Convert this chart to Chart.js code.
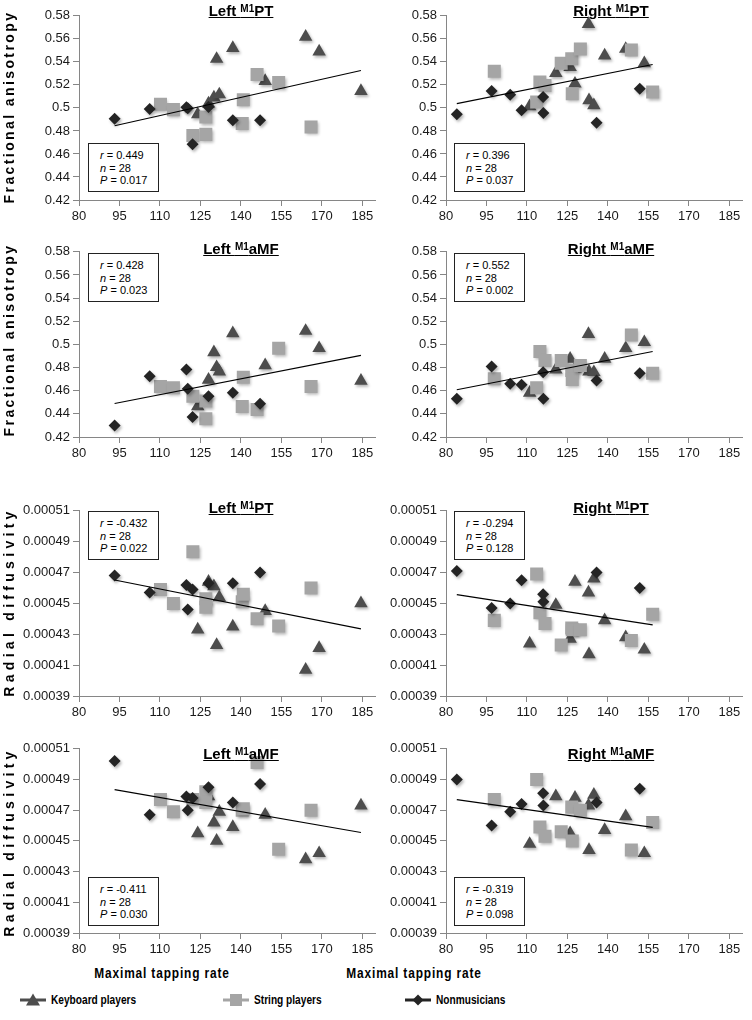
<!DOCTYPE html>
<html>
<head>
<meta charset="utf-8">
<script src="https://cdn.jsdelivr.net/npm/chart.js@4.4.0/dist/chart.umd.min.js"></script>
<style>
  html, body { margin:0; padding:0; background:#fff; }
  body { width:752px; height:1020px; position:relative; overflow:hidden; font-family:"Liberation Sans", Arial, sans-serif; color:#000; }
  canvas.panel { position:absolute; }
  .ptitle { position:absolute; width:200px; text-align:center; font-weight:bold; font-size:15px; line-height:16px; }
  .ptitle span { text-decoration:underline; }
  .ptitle sup { font-size:10px; vertical-align:4px; line-height:0; }
  .stats { position:absolute; box-sizing:border-box; width:71px; height:49px; border:1px solid #222; background:#fff;
           font-size:11px; line-height:12.5px; padding:5px 0 0 11px; white-space:nowrap; z-index:2; }
  .ylab { position:absolute; width:240px; height:16px; line-height:16px; text-align:center; font-weight:bold; font-size:14px;
          font-family:"Liberation Sans", Arial, sans-serif; transform:rotate(-90deg); transform-origin:50% 50%; white-space:nowrap; }
  .xlab { position:absolute; width:240px; height:16px; line-height:16px; text-align:center; font-weight:bold; font-size:14px; letter-spacing:1px;
          font-family:"Liberation Sans", Arial, sans-serif; white-space:nowrap; transform:scaleX(0.85); transform-origin:50% 50%; }
  .leg { position:absolute; height:16px; line-height:16px; font-weight:bold; font-size:13px; white-space:nowrap;
         font-family:"Liberation Sans", Arial, sans-serif; transform:scaleX(0.78); transform-origin:0 50%; }
  .legsym { position:absolute; }
</style>
</head>
<body>
<script>
// ---------- tick labels ----------
const xTicks = [80, 95, 110, 125, 140, 155, 170, 185];
const faTicks = [0.42, 0.44, 0.46, 0.48, 0.50, 0.52, 0.54, 0.56, 0.58];
const rdTicks = [0.00039, 0.00041, 0.00043, 0.00045, 0.00047, 0.00049, 0.00051];

// ---------- series names ----------
const groupNames = ['Keyboard players', 'String players', 'Nonmusicians'];
const panelTitles = [['Left ', 'M1', 'PT'], ['Right ', 'M1', 'PT'], ['Left ', 'M1', 'aMF'], ['Right ', 'M1', 'aMF'],
                     ['Left ', 'M1', 'PT'], ['Right ', 'M1', 'PT'], ['Left ', 'M1', 'aMF'], ['Right ', 'M1', 'aMF']];
const rowLabels = ['Fractional anisotropy', 'Fractional anisotropy', 'Radial diffusivity', 'Radial diffusivity'];
const xAxisLabel = 'Maximal tapping rate';

// ---------- maximal tapping rate (x) ----------
const leftKeyboardRate  = [124, 128, 130, 131, 132, 137, 149, 164, 169, 184.5];
const leftStringRate    = [110.2, 115, 122.2, 127, 127, 140.5, 140.9, 146, 154, 166];
const leftNonmusRate    = [93.2, 106.2, 119.8, 120.3, 122.1, 128, 137, 147.1];
const rightKeyboardRate = [111, 120.7, 126, 127.8, 132.8, 133, 134.8, 138.8, 146.6, 153.5];
const rightStringRate   = [97.9, 113.6, 114.8, 116.7, 122.7, 126.6, 126.8, 129.8, 148.7, 156.6];
const rightNonmusRate   = [84, 96.9, 103.8, 108, 116, 116.1, 135.8, 151.8];

// ---------- fractional anisotropy ----------
const faLeftPT_keyboard = [0.4945, 0.5037, 0.509, 0.5425, 0.5117, 0.552, 0.5233, 0.5618, 0.549, 0.5146];
const faLeftPT_string   = [0.5031, 0.4985, 0.476, 0.492, 0.477, 0.4864, 0.507, 0.529, 0.522, 0.4835];
const faLeftPT_nonmus   = [0.4905, 0.499, 0.5005, 0.4998, 0.4685, 0.5008, 0.4893, 0.4893];

const faRightPT_keyboard = [0.5014, 0.5302, 0.5354, 0.521, 0.5728, 0.5066, 0.5022, 0.5454, 0.5512, 0.5388];
const faRightPT_string   = [0.5319, 0.5051, 0.5224, 0.5195, 0.5388, 0.5426, 0.5123, 0.5512, 0.5503, 0.5138];
const faRightPT_nonmus   = [0.4945, 0.5146, 0.5114, 0.4979, 0.5094, 0.4956, 0.487, 0.5166];

const faLeftAMF_keyboard = [0.4464, 0.4694, 0.4932, 0.4803, 0.4766, 0.5096, 0.482, 0.5116, 0.4967, 0.4685];
const faLeftAMF_string   = [0.4636, 0.4625, 0.4553, 0.451, 0.4358, 0.4464, 0.4717, 0.4438, 0.4967, 0.4636];
const faLeftAMF_nonmus   = [0.43, 0.4725, 0.4783, 0.4616, 0.4372, 0.4553, 0.4582, 0.4487];

const faRightAMF_keyboard = [0.4582, 0.4783, 0.4875, 0.479, 0.509, 0.4766, 0.476, 0.4875, 0.4967, 0.5019];
const faRightAMF_string   = [0.4703, 0.4625, 0.4938, 0.486, 0.486, 0.4774, 0.4697, 0.4817, 0.5082, 0.4751];
const faRightAMF_nonmus   = [0.453, 0.481, 0.4659, 0.4651, 0.476, 0.453, 0.4688, 0.4751];

// ---------- radial diffusivity ----------
const rdLeftPT_keyboard = [0.000433, 0.000464, 0.000461, 0.000423, 0.000454, 0.000435, 0.000445, 0.000407, 0.000421, 0.00045];
const rdLeftPT_string   = [0.000459, 0.00045, 0.0004835, 0.000453, 0.0004475, 0.000451, 0.000456, 0.00044, 0.0004353, 0.00046];
const rdLeftPT_nonmus   = [0.000468, 0.000457, 0.000462, 0.000446, 0.000459, 0.000463, 0.000463, 0.00047];

const rdRightPT_keyboard = [0.000424, 0.000449, 0.000427, 0.000464, 0.000457, 0.000417, 0.000466, 0.000439, 0.000428, 0.00042];
const rdRightPT_string   = [0.000439, 0.000469, 0.000444, 0.000437, 0.000423, 0.000434, 0.000433, 0.000433, 0.000426, 0.000443];
const rdRightPT_nonmus   = [0.000471, 0.000447, 0.00045, 0.000465, 0.000456, 0.000451, 0.00047, 0.00046];

const rdLeftAMF_keyboard = [0.000455, 0.000479, 0.000462, 0.00045, 0.000469, 0.000459, 0.000467, 0.000438, 0.000442, 0.000473];
const rdLeftAMF_string   = [0.000477, 0.000469, 0.000477, 0.000482, 0.000475, 0.00047, 0.000471, 0.000501, 0.0004445, 0.00047];
const rdLeftAMF_nonmus   = [0.000502, 0.000467, 0.000479, 0.00047, 0.000478, 0.000485, 0.000475, 0.000487];

const rdRightAMF_keyboard = [0.000448, 0.000479, 0.000455, 0.000478, 0.000473, 0.000444, 0.00048, 0.000457, 0.000466, 0.000442];
const rdRightAMF_string   = [0.000477, 0.00049, 0.000459, 0.000453, 0.000456, 0.000472, 0.00045, 0.00047, 0.000444, 0.000462];
const rdRightAMF_nonmus   = [0.00049, 0.00046, 0.000469, 0.000474, 0.000481, 0.000473, 0.000475, 0.000484];

// ---------- fitted lines (value at lowest and highest tapping rate) ----------
const trendFaLeftPT   = [0.4845, 0.5325];
const trendFaRightPT  = [0.5037, 0.5377];
const trendFaLeftAMF  = [0.4490, 0.4905];
const trendFaRightAMF = [0.4608, 0.4938];
const trendRdLeftPT   = [0.0004652, 0.0004335];
const trendRdRightPT  = [0.0004557, 0.0004361];
const trendRdLeftAMF  = [0.0004834, 0.0004555];
const trendRdRightAMF = [0.0004769, 0.0004588];

// ---------- statistics ----------
const statR = ['0.449', '0.396', '0.428', '0.552', '-0.432', '-0.294', '-0.411', '-0.319'];
const statN = ['28', '28', '28', '28', '28', '28', '28', '28'];
const statP = ['0.017', '0.037', '0.023', '0.002', '0.022', '0.128', '0.030', '0.098'];

// ================= layout =================
const L = {
  canvasLeft: [0, 367], canvasW: 385, yAxisW: 79, padTop: 10, xAxisH: 30, padRight: 1,
  rowTop: [15, 251, 510, 748], rowBottom: [200, 437, 696, 933],
  titleCenterX: [241, 611], titleTop: [2.5, 240.5, 499.5, 745.5],
  statsLeft: [88, 454], statsTop: [143, 253, 511, 877],
  yLabCX: 9, yLabCY: [107, 340, 602, 842], yLabSpacing: [2.4, 2.4, 4.3, 4.3],
  xLabCX: [162, 414], xLabCY: 973,
  colors: { keyboard: '#4d4d4d', string: '#a5a5a5', nonmus: '#242424', axis: '#868686', text: '#1a1a1a' }
};

const panels = [
  { col:0, row:0, kind:'fa', k:faLeftPT_keyboard,  s:faLeftPT_string,  n:faLeftPT_nonmus,  t:trendFaLeftPT },
  { col:1, row:0, kind:'fa', k:faRightPT_keyboard, s:faRightPT_string, n:faRightPT_nonmus, t:trendFaRightPT },
  { col:0, row:1, kind:'fa', k:faLeftAMF_keyboard, s:faLeftAMF_string, n:faLeftAMF_nonmus, t:trendFaLeftAMF },
  { col:1, row:1, kind:'fa', k:faRightAMF_keyboard,s:faRightAMF_string,n:faRightAMF_nonmus,t:trendFaRightAMF },
  { col:0, row:2, kind:'rd', k:rdLeftPT_keyboard,  s:rdLeftPT_string,  n:rdLeftPT_nonmus,  t:trendRdLeftPT },
  { col:1, row:2, kind:'rd', k:rdRightPT_keyboard, s:rdRightPT_string, n:rdRightPT_nonmus, t:trendRdRightPT },
  { col:0, row:3, kind:'rd', k:rdLeftAMF_keyboard, s:rdLeftAMF_string, n:rdLeftAMF_nonmus, t:trendRdLeftAMF },
  { col:1, row:3, kind:'rd', k:rdRightAMF_keyboard,s:rdRightAMF_string,n:rdRightAMF_nonmus,t:trendRdRightAMF }
];
const rates = [
  { k:leftKeyboardRate,  s:leftStringRate,  n:leftNonmusRate },
  { k:rightKeyboardRate, s:rightStringRate, n:rightNonmusRate }
];

function pts(xs, ys) { return xs.map((x, i) => ({ x: x, y: ys[i] })); }
const FONT = '"Liberation Sans", Arial, sans-serif';

// soft marker shadow like the original spreadsheet markers
const markerShadow = {
  id: 'markerShadow',
  beforeDatasetDraw(chart, args) {
    if (args.meta.type === 'line') return;
    const c = chart.ctx;
    c.save();
    c.shadowColor = 'rgba(0,0,0,0.30)';
    c.shadowBlur = 3;
    c.shadowOffsetX = 1.5;
    c.shadowOffsetY = 2;
  },
  afterDatasetDraw(chart, args) {
    if (args.meta.type === 'line') return;
    chart.ctx.restore();
  }
};

panels.forEach((p, idx) => {
  const r = rates[p.col];
  const allX = r.k.concat(r.s, r.n);
  const xMin = Math.min.apply(null, allX), xMax = Math.max.apply(null, allX);
  const plotH = L.rowBottom[p.row] - L.rowTop[p.row];
  const cv = document.createElement('canvas');
  cv.className = 'panel';
  cv.width = L.canvasW; cv.height = L.padTop + plotH + L.xAxisH;
  cv.style.left = L.canvasLeft[p.col] + 'px';
  cv.style.top = (L.rowTop[p.row] - L.padTop) + 'px';
  cv.style.width = cv.width + 'px'; cv.style.height = cv.height + 'px';
  document.body.appendChild(cv);

  const isFA = p.kind === 'fa';
  const yT = isFA ? faTicks : rdTicks;
  new Chart(cv.getContext('2d'), {
    type: 'scatter',
    plugins: [markerShadow],
    data: { datasets: [
      { type:'line', label:'fit', data:[{x:xMin, y:p.t[0]}, {x:xMax, y:p.t[1]}], borderColor:'#000', borderWidth:1.1,
        pointRadius:0, fill:false, tension:0, order:0 },
      { label:groupNames[2], data:pts(r.n, p.n), pointStyle:'rectRot', pointRadius:6, pointHoverRadius:6,
        backgroundColor:L.colors.nonmus, borderColor:L.colors.nonmus, borderWidth:0, order:1 },
      { label:groupNames[1], data:pts(r.s, p.s), pointStyle:'rect', pointRadius:9.2, pointHoverRadius:9.2,
        backgroundColor:L.colors.string, borderColor:L.colors.string, borderWidth:0, order:2 },
      { label:groupNames[0], data:pts(r.k, p.k), pointStyle:'triangle', pointRadius:7.8, pointHoverRadius:7.8,
        backgroundColor:L.colors.keyboard, borderColor:L.colors.keyboard, borderWidth:0, order:3 }
    ]},
    options: {
      responsive:false, animation:false, devicePixelRatio:1,
      layout: { padding: { top:L.padTop, right:L.padRight, left:0, bottom:0 } },
      plugins: { legend:{display:false}, tooltip:{enabled:false}, title:{display:false} },
      events: [],
      scales: {
        x: { type:'linear', min:80, max:190,
             afterBuildTicks: s => { s.ticks = xTicks.map(v => ({ value:v })); },
             afterFit: s => { s.height = L.xAxisH; },
             ticks: { color:L.colors.text, font:{ family:FONT, size:13 }, padding:3, maxRotation:0, autoSkip:false,
                      callback: v => String(v) },
             grid: { drawOnChartArea:false, drawTicks:true, tickLength:6, color:L.colors.axis, lineWidth:1 },
             border: { display:true, color:L.colors.axis, width:1 } },
        y: { type:'linear', min:yT[0], max:yT[yT.length-1],
             afterBuildTicks: s => { s.ticks = yT.map(v => ({ value:v })); },
             afterFit: s => { s.width = L.yAxisW; },
             ticks: { color:L.colors.text, font:{ family:FONT, size:13 }, padding:3, autoSkip:false,
                      callback: v => isFA ? String(Math.round(v * 100) / 100) : Number(v).toFixed(5) },
             grid: { drawOnChartArea:false, drawTicks:true, tickLength:6, color:L.colors.axis, lineWidth:1 },
             border: { display:true, color:L.colors.axis, width:1 } }
      }
    }
  });

  // panel title
  const t = document.createElement('div');
  t.className = 'ptitle';
  t.style.left = (L.titleCenterX[p.col] - 100) + 'px';
  t.style.top = L.titleTop[p.row] + 'px';
  const tt = panelTitles[idx];
  t.innerHTML = '<span>' + tt[0] + '<sup>' + tt[1] + '</sup>' + tt[2] + '</span>';
  document.body.appendChild(t);

  // statistics box
  const b = document.createElement('div');
  b.className = 'stats';
  b.style.left = L.statsLeft[p.col] + 'px';
  b.style.top = L.statsTop[p.row] + 'px';
  b.innerHTML = '<i>r</i> = ' + statR[idx] + '<br><i>n</i> = ' + statN[idx] + '<br><i>P</i> = ' + statP[idx];
  document.body.appendChild(b);
});

// row (y axis) labels
rowLabels.forEach((txt, i) => {
  const d = document.createElement('div');
  d.className = 'ylab';
  d.textContent = txt;
  d.style.letterSpacing = L.yLabSpacing[i] + 'px';
  d.style.left = (L.yLabCX - 120) + 'px';
  d.style.top = (L.yLabCY[i] - 8) + 'px';
  document.body.appendChild(d);
});

// x axis labels
L.xLabCX.forEach(cx => {
  const d = document.createElement('div');
  d.className = 'xlab';
  d.textContent = xAxisLabel;
  d.style.left = (cx - 120) + 'px';
  d.style.top = (L.xLabCY - 8) + 'px';
  document.body.appendChild(d);
});

// legend
const legendItems = [
  { name:groupNames[0], color:L.colors.keyboard, shape:'tri', x:20 },
  { name:groupNames[1], color:L.colors.string, shape:'sq', x:223 },
  { name:groupNames[2], color:L.colors.nonmus, shape:'dia', x:405 }
];
const legendY = 1000;
legendItems.forEach(it => {
  const ns = 'http://www.w3.org/2000/svg';
  const svg = document.createElementNS(ns, 'svg');
  svg.setAttribute('width', '28'); svg.setAttribute('height', '16');
  svg.setAttribute('class', 'legsym');
  svg.style.left = it.x + 'px'; svg.style.top = (legendY - 8) + 'px';
  const line = document.createElementNS(ns, 'line');
  line.setAttribute('x1', '0'); line.setAttribute('x2', '26'); line.setAttribute('y1', '8'); line.setAttribute('y2', '8');
  line.setAttribute('stroke', it.color); line.setAttribute('stroke-width', '3');
  svg.appendChild(line);
  let shape;
  if (it.shape === 'tri') {
    shape = document.createElementNS(ns, 'polygon');
    shape.setAttribute('points', '13,1.5 20,13.5 6,13.5');
  } else if (it.shape === 'sq') {
    shape = document.createElementNS(ns, 'rect');
    shape.setAttribute('x', '7'); shape.setAttribute('y', '2'); shape.setAttribute('width', '12'); shape.setAttribute('height', '12');
  } else {
    shape = document.createElementNS(ns, 'polygon');
    shape.setAttribute('points', '13,2.5 18.5,8 13,13.5 7.5,8');
  }
  shape.setAttribute('fill', it.color);
  svg.appendChild(shape);
  document.body.appendChild(svg);
  const d = document.createElement('div');
  d.className = 'leg';
  d.textContent = it.name;
  d.style.left = (it.x + 31) + 'px';
  d.style.top = (legendY - 8) + 'px';
  document.body.appendChild(d);
});
</script>
</body>
</html>
